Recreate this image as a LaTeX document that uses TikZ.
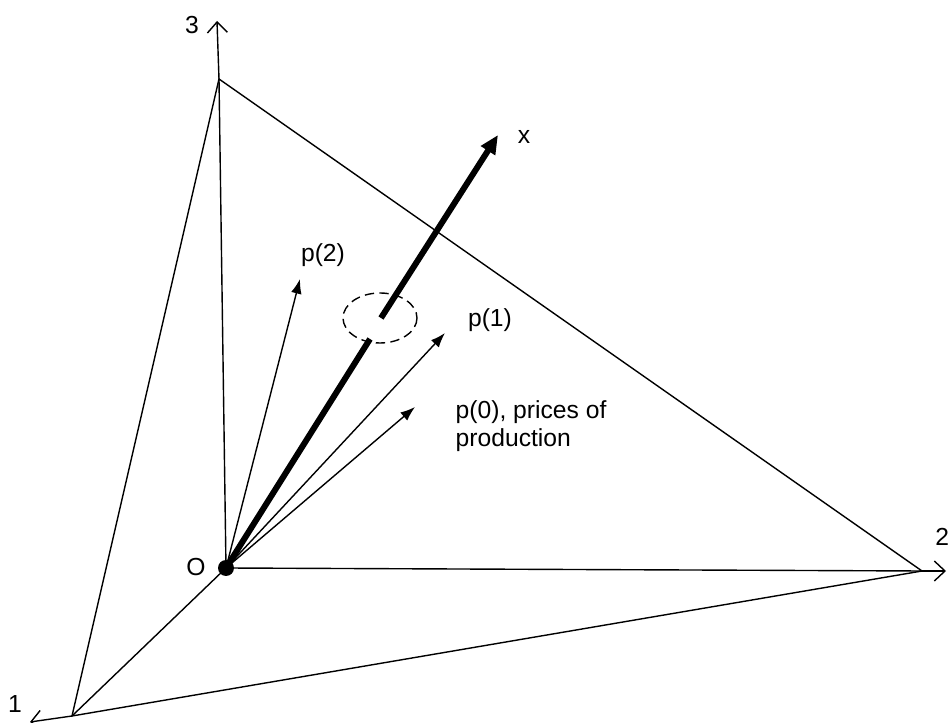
\documentclass[tikz,border=0pt]{standalone}
\usepackage{fontspec}
\setmainfont{Liberation Sans}
\usepackage{tikz}
\usetikzlibrary{arrows.meta}

\begin{document}
\begin{tikzpicture}[x=0.75pt,y=-0.75pt,font=\fontsize{18.5}{21}\selectfont,line width=1.05pt,
  axis/.style={-{Straight Barb[length=8pt,width=15pt]}},
  vec/.style={-{Latex[length=11pt,width=8pt]}}]
  \useasboundingbox (0,0) rectangle (951,723);
  % corners of the simplex and axis tips
  \coordinate (O) at (226,568);
  \coordinate (v1) at (72,716);
  \coordinate (v2) at (922,571);
  \coordinate (v3) at (219,79);
  \coordinate (t1) at (30,722);
  \coordinate (t2) at (946,571);
  \coordinate (t3) at (217,21);
  % axes
  \draw (O) -- (v1); \draw[axis] (v1) -- (t1);
  \draw (O) -- (v2); \draw[axis] (v2) -- (t2);
  \draw (O) -- (v3); \draw[axis] (v3) -- (t3);
  \node at (15,704) {1};
  \node[anchor=east,inner sep=1pt] at (951,537) {2};
  \node at (192,25) {3};
  % the plane
  \draw (v1) -- (v2) -- (v3) -- cycle;
  % price vectors
  \coordinate (p0) at (415,407);
  \coordinate (p1) at (445,333);
  \coordinate (p2) at (300,279);
  \draw[vec] (O) -- (p0);
  \draw[vec] (O) -- (p1);
  \draw[vec] (O) -- (p2);
  \node[anchor=west,align=left,inner sep=0pt] at (455,426) {p(0), prices of\\production};
  \node at (490,320) {p(1)};
  \node at (323,255) {p(2)};
  % output vector x through the plane
  \coordinate (xa) at (370,339);
  \coordinate (xb) at (381,318);
  \coordinate (xt) at (498,135);
  \draw[line width=4.5pt] (O) -- (xa);
  \draw[line width=4.5pt,-{Triangle[length=14pt,width=12pt]}] (xb) -- (xt);
  \node at (524,137) {x};
  \draw[dash pattern=on 7pt off 4pt,line width=1.05pt] (380,318) ellipse (37 and 25);
  % origin
  \fill (O) circle (6pt);
  \node at (196,567) {O};
\end{tikzpicture}
\end{document}
